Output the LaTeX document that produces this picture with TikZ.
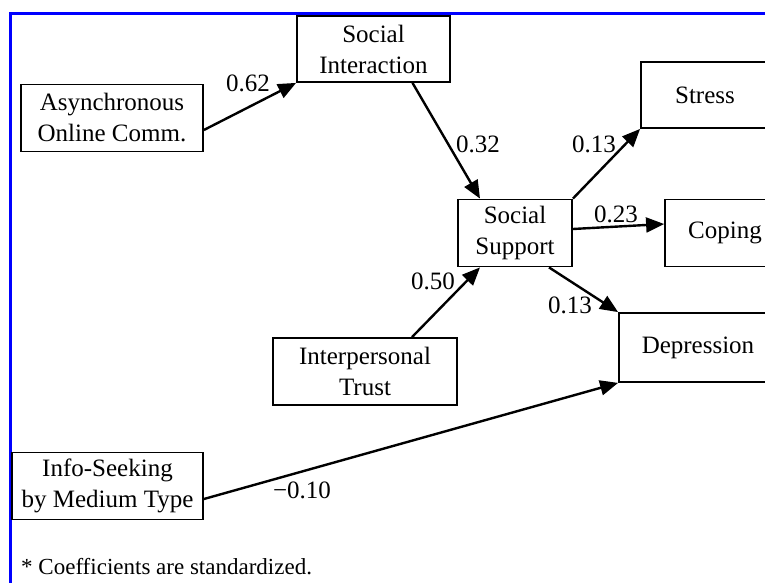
\documentclass[tikz,border=0pt]{standalone}
\usepackage{fontspec}
\setmainfont{Liberation Serif}
\usetikzlibrary{calc,arrows.meta}
\tikzset{
      var/.style={draw, rectangle, line width=1.8pt, align=center, inner sep=0pt,
                  minimum height=67pt, font=\fontsize{25}{31}\selectfont},
      effect/.style={line width=2.4pt, -{Triangle[length=18pt,width=15pt]}},
      coef/.style={inner sep=0pt, font=\fontsize{25}{30}\selectfont},
      outerframe/.style={draw=blue, line width=3pt}
}

\begin{document}
\begin{tikzpicture}[x=1pt,y=-1pt]
                  \clip (0,0) rectangle (765,583);
                  \fill[white] (0,0) rectangle (765,583);
                  % frame round the figure
                  \draw[outerframe] (10.5,600) -- (10.5,14) -- (800,14);
                  % variables of the model
                  \node[var, minimum width=182pt] (async) at (112,118) {Asynchronous\\Online Comm.};
                  \node[var, minimum width=153pt, minimum height=66pt] (inter) at (373.5,49) {Social\\Interaction};
                  \node[var, minimum width=114pt] (supp) at (515,233) {Social\\Support};
                  \node[var, minimum width=184pt] (trust) at (365,371.5) {Interpersonal\\Trust};
                  \node[var, minimum width=191pt] (info) at (107.5,486) {Info-Seeking\\by Medium Type};
                  \node[var, minimum width=128pt, minimum height=66pt] (stress) at (705,95) {Stress};
                  \node[var, minimum width=120pt] (coping) at (725,233) {Coping};
                  \node[var, minimum width=158pt, minimum height=69pt] (depr) at (698,347.5) {Depression};
                  % paths
                  \draw[effect] ([yshift=-12pt]async.east) -- (inter.south west);
                  \draw[effect] ([xshift=39pt]inter.south) -- ([xshift=-35pt]supp.north);
                  \draw[effect] (supp.north east) -- (stress.south west);
                  \draw[effect] ([yshift=4pt]supp.east) -- ([yshift=9pt]coping.west);
                  \draw[effect] ([xshift=34pt]supp.south) -- (depr.north west);
                  \draw[effect] ([xshift=47pt]trust.north) -- ([xshift=-35pt]supp.south);
                  \draw[effect] ([yshift=-13pt]info.east) -- (depr.south west);
                  % coefficients
                  \node[coef] (c1) at (248,83) {0.62};
                  \node[coef] (c2) at (478,144) {0.32};
                  \node[coef] (c3) at (594,144) {0.13};
                  \node[coef] (c4) at (616,214) {0.23};
                  \node[coef] (c5) at (570,305) {0.13};
                  \node[coef] (c6) at (433,281) {0.50};
                  \node[coef] (c7) at (302,490) {−0.10};
                  \node[coef, anchor=base west, font=\fontsize{23}{28}\selectfont] (note) at (21,574) {* Coefficients are standardized.};
\end{tikzpicture}
\end{document}
